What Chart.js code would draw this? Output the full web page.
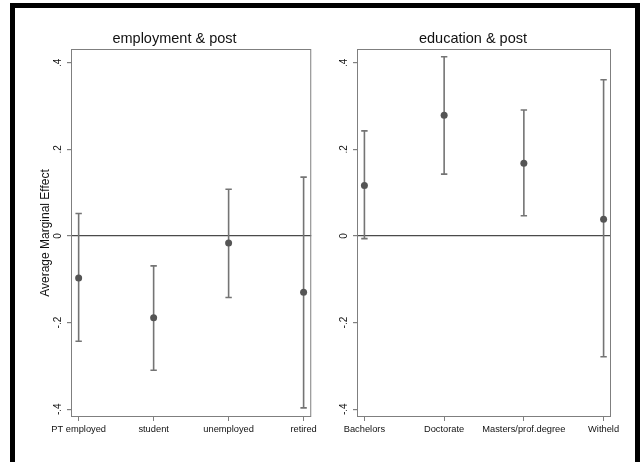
<!DOCTYPE html>
<html>
<head>
<meta charset="utf-8">
<script src="https://cdn.jsdelivr.net/npm/chart.js@4/dist/chart.umd.min.js"></script>
<style>
  html, body { margin: 0; padding: 0; background: #fff; }
  body { width: 643px; height: 462px; position: relative; overflow: hidden; }
  #frame { position: absolute; left: 10px; top: 3px; width: 620px; height: 460px; border: 5px solid #000; background: #fff; }
  #left { position: absolute; left: 0; top: 0; }
  #right { position: absolute; left: 320px; top: 0; }
</style>
</head>
<body>
<div id="frame"></div>
<canvas id="left" width="320" height="462"></canvas>
<canvas id="right" width="323" height="462"></canvas>
<script>
// Average marginal effects with 95% confidence intervals
const empCats = ['PT employed', 'student', 'unemployed', 'retired'];
const empEst  = [-0.097, -0.189, -0.016, -0.130];
const empLo   = [-0.243, -0.310, -0.142, -0.397];
const empHi   = [ 0.052, -0.069,  0.108,  0.136];

const eduCats = ['Bachelors', 'Doctorate', 'Masters/prof.degree', 'Witheld'];
const eduEst  = [ 0.117, 0.279, 0.168, 0.039];
const eduLo   = [-0.006, 0.143, 0.047, -0.279];
const eduHi   = [ 0.243, 0.414, 0.291, 0.361];

const yTickValues = [-0.4, -0.2, 0, 0.2, 0.4];
const yTickLabels = ['-.4', '-.2', '0', '.2', '.4'];

const FONT = '"Liberation Sans", Arial, sans-serif';
const AXIS = '#7f7f7f';

// plot-region outline plus confidence-interval whiskers
const ciPlugin = {
  id: 'ci',
  beforeDatasetsDraw(chart, args, opts) {
    const {ctx, chartArea: a, scales: {x, y}} = chart;
    ctx.save();
    ctx.strokeStyle = AXIS;
    ctx.lineWidth = 1;
    ctx.strokeRect(a.left + 0.5, a.top + 0.5, a.right - a.left - 1, a.bottom - a.top - 1);
    ctx.strokeStyle = '#747474';
    ctx.lineWidth = 1.6;
    opts.lo.forEach((lo, i) => {
      const px = x.getPixelForValue(i + 1);
      const p1 = y.getPixelForValue(lo);
      const p2 = y.getPixelForValue(opts.hi[i]);
      ctx.beginPath();
      ctx.moveTo(px, p1); ctx.lineTo(px, p2);
      ctx.moveTo(px - 3.2, p1); ctx.lineTo(px + 3.2, p1);
      ctx.moveTo(px - 3.2, p2); ctx.lineTo(px + 3.2, p2);
      ctx.stroke();
    });
    ctx.restore();
  }
};

function makePanel(canvasId, title, cats, est, lo, hi, cfg) {
  return new Chart(document.getElementById(canvasId), {
    type: 'scatter',
    data: {
      datasets: [{
        data: est.map((v, i) => ({x: i + 1, y: v})),
        pointRadius: 3.5,
        pointHoverRadius: 3.5,
        pointBackgroundColor: '#555555',
        pointBorderWidth: 0,
        showLine: false
      }]
    },
    options: {
      responsive: false,
      animation: false,
      events: [],
      layout: { padding: { left: cfg.padLeft, right: cfg.padRight, top: 28, bottom: 20 } },
      plugins: {
        legend: { display: false },
        tooltip: { enabled: false },
        title: {
          display: true,
          text: title,
          color: '#111',
          font: { family: FONT, size: 14.5, weight: 'normal', lineHeight: 1.2 },
          padding: { top: 2, bottom: 1.6 }
        },
        ci: { lo: lo, hi: hi }
      },
      scales: {
        x: {
          type: 'linear',
          min: cfg.xMin,
          max: cfg.xMax,
          afterBuildTicks: s => { s.ticks = cats.map((c, i) => ({value: i + 1})); },
          afterFit: s => { s.height = 25; },
          border: { display: false },
          grid: { drawOnChartArea: false, tickLength: 4, tickColor: AXIS, lineWidth: 1 },
          ticks: {
            autoSkip: false, maxRotation: 0, minRotation: 0, padding: 3,
            color: '#111',
            font: { family: FONT, size: 9.3 },
            callback: v => cats[v - 1]
          }
        },
        y: {
          min: -0.418,
          max: 0.432,
          afterBuildTicks: s => { s.ticks = yTickValues.map(v => ({value: v})); },
          afterFit: s => { s.width = cfg.yWidth; },
          border: { display: false },
          grid: {
            drawOnChartArea: true,
            color: c => (c.tick && c.tick.value === 0) ? '#4a4a4a' : 'rgba(0,0,0,0)',
            lineWidth: 1.2,
            tickColor: AXIS,
            tickLength: 4
          },
          title: {
            display: cfg.yTitle !== '',
            text: cfg.yTitle,
            color: '#111',
            font: { family: FONT, size: 12, lineHeight: 1.2 },
            padding: { top: 2.3, bottom: 0 }
          },
          ticks: {
            minRotation: 90, maxRotation: 90,
            crossAlign: 'center',
            padding: 3.2,
            color: '#111',
            font: { family: FONT, size: 10 },
            callback: v => yTickLabels[yTickValues.indexOf(v)]
          }
        }
      }
    },
    plugins: [ciPlugin]
  });
}

makePanel('left', 'employment & post', empCats, empEst, empLo, empHi,
  { padLeft: 36, padRight: 7, yWidth: 35, xMin: 0.898, xMax: 4.102, yTitle: 'Average Marginal Effect' });
makePanel('right', 'education & post', eduCats, eduEst, eduLo, eduHi,
  { padLeft: 15, padRight: 32, yWidth: 22, xMin: 0.907, xMax: 4.093, yTitle: '' });
</script>
</body>
</html>
